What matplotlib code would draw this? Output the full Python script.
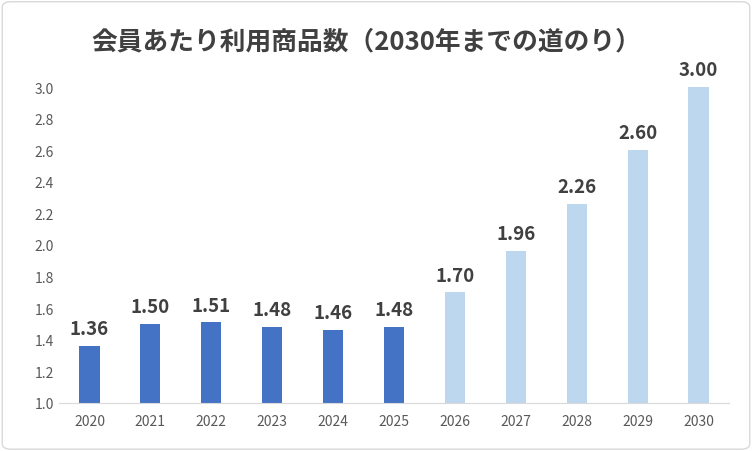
import matplotlib
matplotlib.use("Agg")
import matplotlib.pyplot as plt
from matplotlib.patches import FancyBboxPatch

plt.rcParams['font.family'] = ['Noto Sans CJK JP', 'DejaVu Sans']

years = ['2020','2021','2022','2023','2024','2025','2026','2027','2028','2029','2030']
values = [1.36,1.50,1.51,1.48,1.46,1.48,1.70,1.96,2.26,2.60,3.00]
colors = ['#4472C4']*6 + ['#BDD7EE']*5

fig = plt.figure(figsize=(7.52,4.52), dpi=100)
fig.patches.append(FancyBboxPatch((0.003,0.004),0.994,0.99,boxstyle="round,pad=0,rounding_size=0.012",
    transform=fig.transFigure, fill=False, edgecolor='#D9D9D9', linewidth=1))
ax = fig.add_axes([59/752, 48/452, 670/752, 316/452])
x = range(len(years))
ax.bar(x, values, width=0.33, color=colors)
for i,v in zip(x, values):
    ax.text(i, v+0.05, f'{v:.2f}', ha='center', va='bottom', fontsize=13.5, fontweight='bold', color='#404040')
ax.set_xticks(list(x)); ax.set_xticklabels(years)
ax.set_xlim(-0.5, len(years)-0.5)
ax.set_ylim(1.0, 3.0)
ax.set_yticks([1.0+0.2*i for i in range(11)])
ax.set_yticklabels([f'{1.0+0.2*i:.1f}' for i in range(11)])
ax.tick_params(length=0, labelsize=10, colors='#595959')
ax.tick_params(axis='x', pad=8)
for s in ['top','right','left']:
    ax.spines[s].set_visible(False)
ax.spines['bottom'].set_color('#D9D9D9')
fig.text(366/752, 1-42/452, '会員あたり利用商品数（2030年までの道のり）', ha='center', va='center',
         fontsize=18.5, fontweight='bold', color='#404040')
fig.savefig('out.png')
